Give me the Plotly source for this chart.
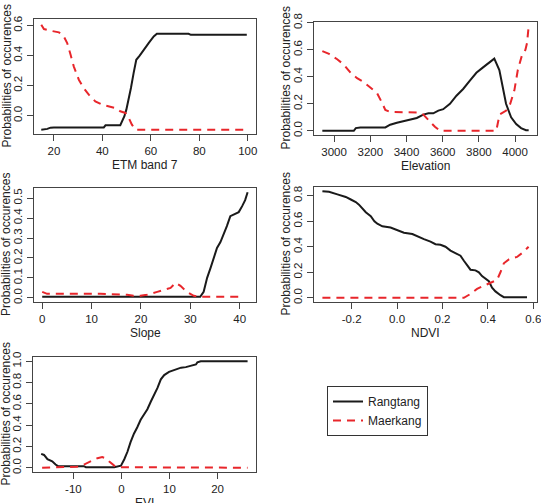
import plotly.graph_objects as go

W, H = 541, 503

# ---------------- data ----------------
etm_black_x = [14.8, 16.6, 17.3, 18.6, 20, 40.6, 41.3, 47.4, 48.1, 49.1, 49.9, 50.9, 51.8, 52.9, 54.0, 55.4, 57.0, 59.1, 61.2, 62.5, 75.6, 76.5, 99.6]
etm_black_y = [-0.093, -0.093, -0.088, -0.080, -0.078, -0.078, -0.064, -0.064, -0.038, -0.004, 0.040, 0.106, 0.184, 0.283, 0.372, 0.399, 0.439, 0.483, 0.527, 0.545, 0.545, 0.538, 0.538]
etm_red_x = [14.8, 15.9, 18.6, 22.1, 24.1, 25.5, 26.9, 28.2, 30.3, 32.3, 34.4, 37.1, 39.9, 43.3, 45.4, 47.4, 49.5, 50.9, 52.2, 53.6, 98.2]
etm_red_y = [0.605, 0.576, 0.565, 0.554, 0.527, 0.483, 0.405, 0.328, 0.239, 0.184, 0.140, 0.095, 0.073, 0.062, 0.051, 0.029, 0.018, -0.016, -0.060, -0.093, -0.093]

elev_black_x = [2935, 3109, 3120, 3145, 3283, 3310, 3347, 3383, 3420, 3457, 3493, 3521, 3548, 3576, 3603, 3640, 3676, 3713, 3749, 3786, 3823, 3859, 3885, 3913, 3932, 3950, 3978, 4006, 4033, 4060, 4075]
elev_black_y = [0.0, 0.0, 0.02, 0.025, 0.025, 0.045, 0.06, 0.07, 0.08, 0.095, 0.12, 0.13, 0.13, 0.15, 0.16, 0.20, 0.26, 0.31, 0.37, 0.43, 0.47, 0.51, 0.535, 0.45, 0.33, 0.20, 0.10, 0.05, 0.02, 0.005, 0.005]
elev_red_x = [2935, 2972, 3017, 3054, 3091, 3127, 3164, 3200, 3237, 3264, 3283, 3310, 3438, 3466, 3493, 3521, 3557, 3585, 3896, 3914, 3951, 3973, 3996, 4015, 4024, 4038, 4057, 4066, 4075]
elev_red_y = [0.59, 0.57, 0.53, 0.49, 0.43, 0.39, 0.36, 0.32, 0.28, 0.21, 0.155, 0.14, 0.14, 0.135, 0.12, 0.08, 0.03, 0.0, 0.0, 0.12, 0.15, 0.20, 0.30, 0.45, 0.50, 0.56, 0.60, 0.65, 0.775]

slope_black_x = [0.0, 18.0, 19.0, 32.0, 32.7, 33.4, 34.1, 34.7, 35.4, 36.1, 36.8, 37.4, 38.1, 38.8, 39.8, 40.5, 41.1, 41.6]
slope_black_y = [0.005, 0.005, 0.005, 0.005, 0.03, 0.10, 0.15, 0.20, 0.25, 0.28, 0.32, 0.36, 0.41, 0.42, 0.43, 0.46, 0.49, 0.53]
slope_red_x = [0.0, 1.0, 5.0, 11.8, 17.2, 18.5, 19.9, 21.2, 23.3, 24.6, 26.0, 27.0, 28.0, 29.3, 30.7, 32.0, 33.4, 40.5]
slope_red_y = [0.03, 0.02, 0.02, 0.02, 0.015, 0.01, 0.01, 0.015, 0.03, 0.04, 0.05, 0.075, 0.06, 0.03, 0.01, 0.005, 0.005, 0.005]

ndvi_black_x = [-0.329, -0.30, -0.263, -0.226, -0.204, -0.182, -0.168, -0.153, -0.138, -0.116, -0.10, -0.087, -0.065, -0.029, 0.0, 0.03, 0.067, 0.089, 0.118, 0.147, 0.169, 0.191, 0.213, 0.235, 0.257, 0.279, 0.294, 0.308, 0.323, 0.345, 0.36, 0.374, 0.389, 0.404, 0.418, 0.433, 0.455, 0.47, 0.572]
ndvi_black_y = [0.835, 0.83, 0.81, 0.79, 0.77, 0.75, 0.73, 0.70, 0.67, 0.64, 0.60, 0.58, 0.56, 0.55, 0.53, 0.51, 0.50, 0.48, 0.46, 0.44, 0.42, 0.415, 0.40, 0.37, 0.35, 0.33, 0.29, 0.26, 0.22, 0.215, 0.20, 0.17, 0.15, 0.13, 0.08, 0.05, 0.02, 0.005, 0.005]
ndvi_red_x = [-0.329, 0.294, 0.323, 0.352, 0.389, 0.418, 0.44, 0.455, 0.47, 0.492, 0.528, 0.557, 0.579]
ndvi_red_y = [0.0, 0.0, 0.03, 0.07, 0.10, 0.12, 0.14, 0.20, 0.27, 0.30, 0.32, 0.36, 0.40]

evi_black_x = [-16.7, -16.1, -15.4, -14.4, -13.7, -13.2, -7.8, -7.4, -1.5, -0.8, -0.1, 0.6, 1.25, 1.9, 2.6, 3.3, 4.0, 4.7, 5.4, 6.1, 6.8, 7.5, 8.2, 8.9, 9.9, 11.0, 12.4, 13.4, 14.4, 15.5, 15.8, 16.5, 26.25]
evi_black_y = [0.13, 0.12, 0.08, 0.06, 0.03, 0.015, 0.015, 0.005, 0.005, 0.015, 0.02, 0.08, 0.15, 0.24, 0.32, 0.38, 0.45, 0.50, 0.55, 0.62, 0.68, 0.75, 0.83, 0.87, 0.90, 0.92, 0.94, 0.945, 0.96, 0.97, 0.99, 1.0, 1.0]
evi_red_x = [-16.5, -9.2, -7.8, -6.4, -5.0, -4.0, -3.3, -2.6, -1.5, -0.8, 26.25]
evi_red_y = [0.0, 0.01, 0.03, 0.06, 0.09, 0.10, 0.09, 0.06, 0.02, 0.005, 0.0]

x_titles = ["ETM band 7", "Elevation", "Slope", "NDVI", "EVI"]
y_title = "Probabilities of occurences"
series_names = ["Rangtang", "Maerkang"]

etm_xticks = [20, 40, 60, 80, 100]
elev_xticks = [3000, 3200, 3400, 3600, 3800, 4000]
slope_xticks = [0, 10, 20, 30, 40]
ndvi_xticks = [-0.2, 0.0, 0.2, 0.4, 0.6]
ndvi_xticklabels = ["-0.2", "0.0", "0.2", "0.4", "0.6"]
evi_xticks = [-10, 0, 10, 20]
evi_xticklabels = ["-10", "0", "10", "20"]
etm_yticks = [0.0, 0.2, 0.4, 0.6]
elev_yticks = [0.0, 0.2, 0.4, 0.6, 0.8]
slope_yticks = [0.0, 0.1, 0.2, 0.3, 0.4, 0.5]
ndvi_yticks = [0.0, 0.2, 0.4, 0.6, 0.8]
evi_yticks = [0.0, 0.2, 0.4, 0.6, 0.8, 1.0]

# ---------------- layout helpers ----------------
FONT = "Liberation Sans, Arial, sans-serif"
BLACK = "#1a1a1a"
RED = "#e8262b"
AXC = "#444444"
TXT = "#222222"

# panel boxes in page pixels: (left, right, top, bottom)
boxes = [
    (34, 256, 19, 134),
    (314, 537, 22, 135),
    (34, 256, 188, 302),
    (314, 537, 187, 302),
    (33, 256, 357, 472),
]
xranges = [[11.8, 103.4], [2889, 4121], [-1.66, 43.3], [-0.366, 0.616], [-18.4, 28.0]]
yranges = [[-0.122, 0.643], [-0.031, 0.806], [-0.021, 0.551], [-0.033, 0.868], [-0.04, 1.04]]

panels = [
    (etm_black_x, etm_black_y, etm_red_x, etm_red_y, etm_xticks, [str(v) for v in etm_xticks], etm_yticks),
    (elev_black_x, elev_black_y, elev_red_x, elev_red_y, elev_xticks, [str(v) for v in elev_xticks], elev_yticks),
    (slope_black_x, slope_black_y, slope_red_x, slope_red_y, slope_xticks, [str(v) for v in slope_xticks], slope_yticks),
    (ndvi_black_x, ndvi_black_y, ndvi_red_x, ndvi_red_y, ndvi_xticks, ndvi_xticklabels, ndvi_yticks),
    (evi_black_x, evi_black_y, evi_red_x, evi_red_y, evi_xticks, evi_xticklabels, evi_yticks),
]


def px_x(p):
    return p / W


def px_y(p):
    return 1 - p / H


fig = go.Figure()
annotations = []
layout_axes = {}

for i, (bx, by, rx, ry, xt, xtl, yt) in enumerate(panels):
    n = i + 1
    xa = "x" if n == 1 else f"x{n}"
    ya = "y" if n == 1 else f"y{n}"
    l, r, t, b = boxes[i]
    fig.add_trace(go.Scatter(x=bx, y=by, xaxis=xa, yaxis=ya, mode="lines",
                             line=dict(color=BLACK, width=2),
                             name=series_names[0], legendgroup="a", showlegend=(i == 0)))
    fig.add_trace(go.Scatter(x=rx, y=ry, xaxis=xa, yaxis=ya, mode="lines",
                             line=dict(color=RED, width=2, dash="8px,6px"),
                             name=series_names[1], legendgroup="b", showlegend=(i == 0)))
    common = dict(showline=True, mirror=True, linecolor=AXC, linewidth=1,
                  ticks="outside", ticklen=6, tickcolor=AXC, tickwidth=1,
                  showgrid=False, zeroline=False, automargin=False,
                  ticklabeloverflow="allow",
                  tickfont=dict(family=FONT, size=11.5, color=TXT))
    layout_axes["xaxis" if n == 1 else f"xaxis{n}"] = dict(
        common, domain=[px_x(l), px_x(r)], range=xranges[i], anchor=ya,
        tickmode="array", tickvals=xt, ticktext=xtl)
    layout_axes["yaxis" if n == 1 else f"yaxis{n}"] = dict(
        common, domain=[px_y(b), px_y(t)], range=yranges[i], anchor=xa,
        tickmode="array", tickvals=yt, ticktext=[f"{v:.1f}" for v in yt], tickangle=-90)
    annotations.append(dict(text=x_titles[i], xref="paper", yref="paper",
                            x=px_x((l + r) / 2), y=px_y(b + 31), xanchor="center", yanchor="middle",
                            showarrow=False, font=dict(family=FONT, size=12, color=TXT)))
    annotations.append(dict(text=y_title, xref="paper", yref="paper",
                            x=px_x(l - 28), y=px_y((t + b) / 2), xanchor="center", yanchor="middle",
                            textangle=-90, showarrow=False, font=dict(family=FONT, size=12, color=TXT)))

fig.update_layout(
    template="none",
    width=W, height=H,
    margin=dict(l=0, r=0, t=0, b=0, autoexpand=False),
    paper_bgcolor="white", plot_bgcolor="white",
    annotations=annotations,
    legend=dict(x=px_x(327), y=px_y(386), xanchor="left", yanchor="top",
                bordercolor="#333", borderwidth=1, bgcolor="white",
                font=dict(family=FONT, size=12, color=TXT), tracegroupgap=0),
    **layout_axes,
)

# remove the browser's default 8px body margin so the figure fills the page exactly
fig.write_html("out.html", config={"displayModeBar": False},
               post_script="document.body.style.margin='0px';")
